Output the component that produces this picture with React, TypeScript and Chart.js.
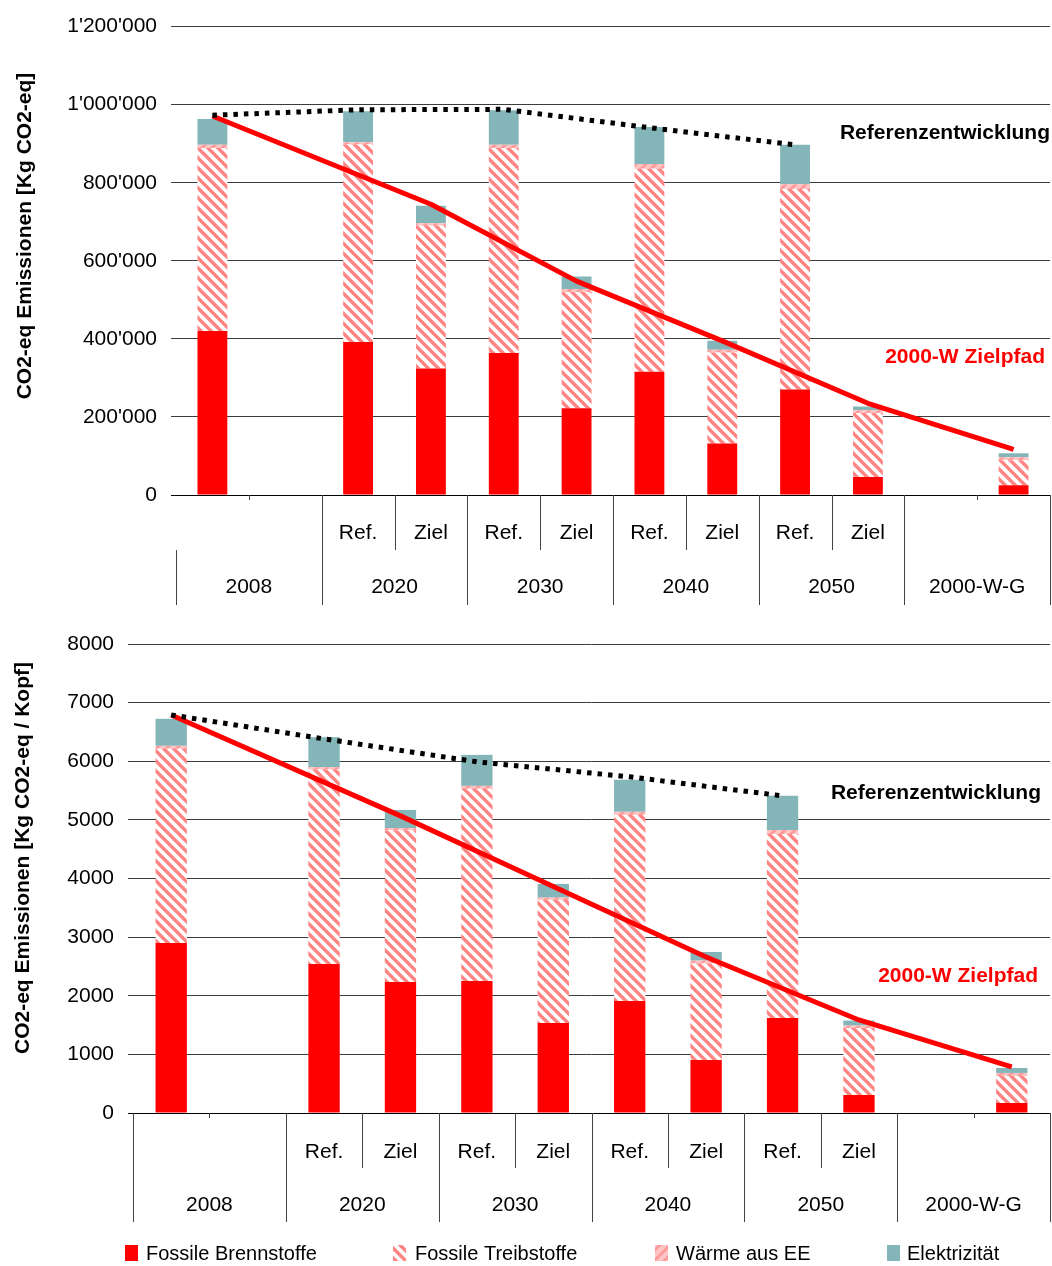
import React, { useEffect, useRef } from 'react';
import { Chart, registerables } from 'chart.js';

Chart.register(...registerables);

// ---------- DATA ----------
const SLOT_LABELS = ['', '', 'Ref.', 'Ziel', 'Ref.', 'Ziel', 'Ref.', 'Ziel', 'Ref.', 'Ziel', '', ''];
const GROUP_LABELS = ['2008', '2020', '2030', '2040', '2050', '2000-W-G'];
const SERIES_NAMES = ['Fossile Brennstoffe', 'Fossile Treibstoffe', 'Wärme aus EE', 'Elektrizität'];
const LINE_NAMES = ['Referenzentwicklung', '2000-W Zielpfad'];

// Top panel: total emissions [Kg CO2-eq]
const TOTAL_BRENN = [420000, null, 392000, 324000, 364000, 222000, 316000, 132000, 270000, 46000, null, 25000];
const TOTAL_TREIB = [469000, null, 506000, 366000, 525000, 298000, 520000, 233000, 514000, 164000, null, 64000];
const TOTAL_WAERME = [8000, null, 6000, 6000, 8000, 8000, 12000, 7000, 12000, 7000, null, 8000];
const TOTAL_ELEK = [66000, null, 79000, 45000, 89000, 32000, 95000, 23000, 101000, 10000, null, 10000];
const TOTAL_REF = [973000, null, 987000, null, 988000, null, 941000, null, 897000, null, null, null];
const TOTAL_ZIEL = [971000, null, null, 745000, null, 548000, null, 395000, null, 235000, null, 117000];
const TOTAL_TICKS = { max: 1200000, step: 200000 };

// Bottom panel: per capita [Kg CO2-eq / Kopf]
const KOPF_BRENN = [2900, null, 2540, 2235, 2253, 1535, 1911, 905, 1621, 307, null, 171];
const KOPF_TREIB = [3312, null, 3318, 2582, 3276, 2100, 3174, 1643, 3140, 1143, null, 460];
const KOPF_WAERME = [51, null, 41, 46, 51, 39, 52, 52, 68, 41, null, 52];
const KOPF_ELEK = [461, null, 512, 307, 529, 234, 546, 147, 581, 86, null, 85];
const KOPF_REF = [6790, null, 6382, null, 5990, null, 5734, null, 5410, null, null, null];
const KOPF_ZIEL = [6790, null, null, 5068, null, 3862, null, 2662, null, 1587, null, 785];
const KOPF_TICKS = { max: 8000, step: 1000 };

// ---------- STYLE ----------
const FONT = '"Liberation Sans", Arial, sans-serif';
const RED = '#ff0000';
const TEAL = '#84b6b9';

function makePattern(dir: 'back' | 'fwd', bg: string, fg: string, lw: number) {
  const c = document.createElement('canvas');
  c.width = 10;
  c.height = 10;
  const g = c.getContext('2d')!;
  g.fillStyle = bg;
  g.fillRect(0, 0, 10, 10);
  g.strokeStyle = fg;
  g.lineWidth = lw;
  for (const o of [-10, 0, 10]) {
    g.beginPath();
    if (dir === 'back') {
      g.moveTo(o - 1, -1);
      g.lineTo(o + 11, 11);
    } else {
      g.moveTo(o - 1, 11);
      g.lineTo(o + 11, -1);
    }
    g.stroke();
  }
  return g.createPattern(c, 'repeat')!;
}

type Cfg = {
  row1: number;
  row2: number;
  subBottom: number;
  groupBottom: number;
  firstPartial: boolean;
  yTitle: string;
  titleX: number;
  titleY: number;
  refLabel: [number, number];
  zielLabel: [number, number];
  legendY?: number;
};

function makeDecor(cfg: Cfg, fills: any[]) {
  return {
    id: 'decor',
    afterDraw(chart: any) {
      const ctx = chart.ctx as CanvasRenderingContext2D;
      const xs = chart.scales.x;
      const ca = chart.chartArea;
      const n = SLOT_LABELS.length;
      const centers = SLOT_LABELS.map((_, i) => xs.getPixelForValue(i));
      const edge = (i: number) => (i === 0 ? ca.left : i === n ? ca.right : (centers[i - 1] + centers[i]) / 2);
      const line = (x1: number, y1: number, x2: number, y2: number) => {
        ctx.beginPath();
        ctx.moveTo(x1, y1);
        ctx.lineTo(x2, y2);
        ctx.stroke();
      };
      ctx.save();
      // baseline
      ctx.strokeStyle = '#000';
      ctx.lineWidth = 1;
      line(ca.left, Math.round(ca.bottom) + 0.5, ca.right, Math.round(ca.bottom) + 0.5);
      // dividers
      ctx.strokeStyle = '#444';
      const yb = Math.round(ca.bottom);
      for (let g = 0; g <= GROUP_LABELS.length; g++) {
        const x = Math.round(edge(g * 2)) + 0.5;
        const top = g === 0 && cfg.firstPartial ? cfg.subBottom : yb;
        line(x, top, x, cfg.groupBottom);
      }
      for (let g = 0; g < GROUP_LABELS.length; g++) {
        const x = Math.round(edge(g * 2 + 1)) + 0.5;
        if (SLOT_LABELS[g * 2]) line(x, yb, x, cfg.subBottom);
        else line(x, yb, x, yb + 5);
      }
      // category labels
      ctx.fillStyle = '#000';
      ctx.font = `21px ${FONT}`;
      ctx.textAlign = 'center';
      ctx.textBaseline = 'middle';
      SLOT_LABELS.forEach((l, i) => {
        if (l) ctx.fillText(l, centers[i], cfg.row1);
      });
      GROUP_LABELS.forEach((l, g) => {
        ctx.fillText(l, (edge(g * 2) + edge(g * 2 + 2)) / 2, cfg.row2);
      });
      // line annotations
      ctx.font = `bold 21px ${FONT}`;
      ctx.textAlign = 'right';
      ctx.fillStyle = '#000';
      ctx.fillText(LINE_NAMES[0], cfg.refLabel[0], cfg.refLabel[1]);
      ctx.fillStyle = RED;
      ctx.fillText(LINE_NAMES[1], cfg.zielLabel[0], cfg.zielLabel[1]);
      // y title
      ctx.save();
      ctx.translate(cfg.titleX, cfg.titleY);
      ctx.rotate(-Math.PI / 2);
      ctx.textAlign = 'center';
      ctx.fillStyle = '#000';
      ctx.font = `bold 21px ${FONT}`;
      ctx.fillText(cfg.yTitle, 0, 0);
      ctx.restore();
      // legend
      if (cfg.legendY !== undefined) {
        const iconX = [125, 393, 655, 887];
        const textX = [146, 415, 676, 907];
        ctx.font = `20px ${FONT}`;
        ctx.textAlign = 'left';
        ctx.textBaseline = 'middle';
        SERIES_NAMES.forEach((name, i) => {
          ctx.fillStyle = fills[i];
          ctx.fillRect(iconX[i], cfg.legendY! - 8, 13, 16);
          ctx.fillStyle = '#000';
          ctx.fillText(name, textX[i], cfg.legendY! + 1);
        });
      }
      ctx.restore();
    },
  };
}

function buildChart(
  canvas: HTMLCanvasElement,
  series: (number | null)[][],
  ref: (number | null)[],
  ziel: (number | null)[],
  ticks: { max: number; step: number },
  axisWidth: number,
  padTop: number,
  padBottom: number,
  fmt: (v: number) => string,
  cfg: Cfg
) {
  const fills = [
    RED,
    makePattern('back', '#ffffff', '#ff8484', 3.4),
    makePattern('fwd', '#ffc4c4', '#ff9a9a', 3),
    TEAL,
  ];
  const barSets = series.map((data, i) => ({
    type: 'bar' as const,
    label: SERIES_NAMES[i],
    data,
    backgroundColor: fills[i],
    borderWidth: 0,
    stack: 'bars',
    order: 2,
    categoryPercentage: 1,
    barPercentage: 0.41,
  }));
  const lineSets = [
    {
      type: 'line' as const,
      label: LINE_NAMES[0],
      data: ref,
      borderColor: '#000',
      borderWidth: 5,
      borderDash: [4.5, 6],
      pointRadius: 0,
      spanGaps: true,
      stack: 'ref',
      order: 0,
      fill: false,
    },
    {
      type: 'line' as const,
      label: LINE_NAMES[1],
      data: ziel,
      borderColor: RED,
      borderWidth: 5,
      pointRadius: 0,
      spanGaps: true,
      stack: 'ziel',
      order: 1,
      fill: false,
      borderJoinStyle: 'round' as const,
    },
  ];
  return new Chart(canvas, {
    type: 'bar',
    data: { labels: SLOT_LABELS.map((l, i) => l || String(i)), datasets: [...barSets, ...lineSets] as any },
    options: {
      responsive: false,
      animation: false,
      layout: { padding: { top: padTop, bottom: padBottom, left: 0, right: 2 } },
      plugins: { legend: { display: false }, tooltip: { enabled: false }, title: { display: false } },
      scales: {
        x: { display: false, stacked: true, offset: true },
        y: {
          stacked: true,
          min: 0,
          max: ticks.max,
          ticks: {
            stepSize: ticks.step,
            color: '#000',
            font: { family: FONT, size: 21 },
            padding: 14,
            callback: (v: any) => fmt(Number(v)),
          },
          grid: {
            color: (c: any) => (c.index === 0 ? '#000' : '#3c3c3c'),
            lineWidth: 1,
            drawTicks: true,
            tickLength: 5,
          },
          border: { display: false },
          afterFit: (s: any) => {
            s.width = axisWidth;
          },
        },
      },
    },
    plugins: [makeDecor(cfg, fills)],
  });
}

const apos = (v: number) => String(Math.round(v)).replace(/\B(?=(\d{3})+(?!\d))/g, "'");

export default function App() {
  const topRef = useRef<HTMLCanvasElement>(null);
  const botRef = useRef<HTMLCanvasElement>(null);

  useEffect(() => {
    Chart.defaults.font.family = FONT;
    const c1 = buildChart(
      topRef.current!,
      [TOTAL_BRENN, TOTAL_TREIB, TOTAL_WAERME, TOTAL_ELEK],
      TOTAL_REF,
      TOTAL_ZIEL,
      TOTAL_TICKS,
      176,
      24,
      120,
      apos,
      {
        row1: 533,
        row2: 587,
        subBottom: 550,
        groupBottom: 605,
        firstPartial: true,
        yTitle: 'CO2-eq Emissionen [Kg CO2-eq]',
        titleX: 25,
        titleY: 236,
        refLabel: [1050, 133],
        zielLabel: [1045, 357],
      }
    );
    const c2 = buildChart(
      botRef.current!,
      [KOPF_BRENN, KOPF_TREIB, KOPF_WAERME, KOPF_ELEK],
      KOPF_REF,
      KOPF_ZIEL,
      KOPF_TICKS,
      133,
      29,
      153,
      (v) => String(v),
      {
        row1: 537,
        row2: 590,
        subBottom: 553,
        groupBottom: 607,
        firstPartial: false,
        yTitle: 'CO2-eq Emissionen [Kg CO2-eq / Kopf]',
        titleX: 23,
        titleY: 243,
        refLabel: [1041, 178],
        zielLabel: [1038, 361],
        legendY: 638,
      }
    );
    return () => {
      c1.destroy();
      c2.destroy();
    };
  }, []);

  return (
    <div style={{ position: 'absolute', left: 0, top: 0, width: 1052, height: 1266, background: '#fff' }}>
      <canvas ref={topRef} width={1052} height={615} style={{ position: 'absolute', left: 0, top: 0, width: 1052, height: 615 }} />
      <canvas ref={botRef} width={1052} height={651} style={{ position: 'absolute', left: 0, top: 615, width: 1052, height: 651 }} />
    </div>
  );
}
